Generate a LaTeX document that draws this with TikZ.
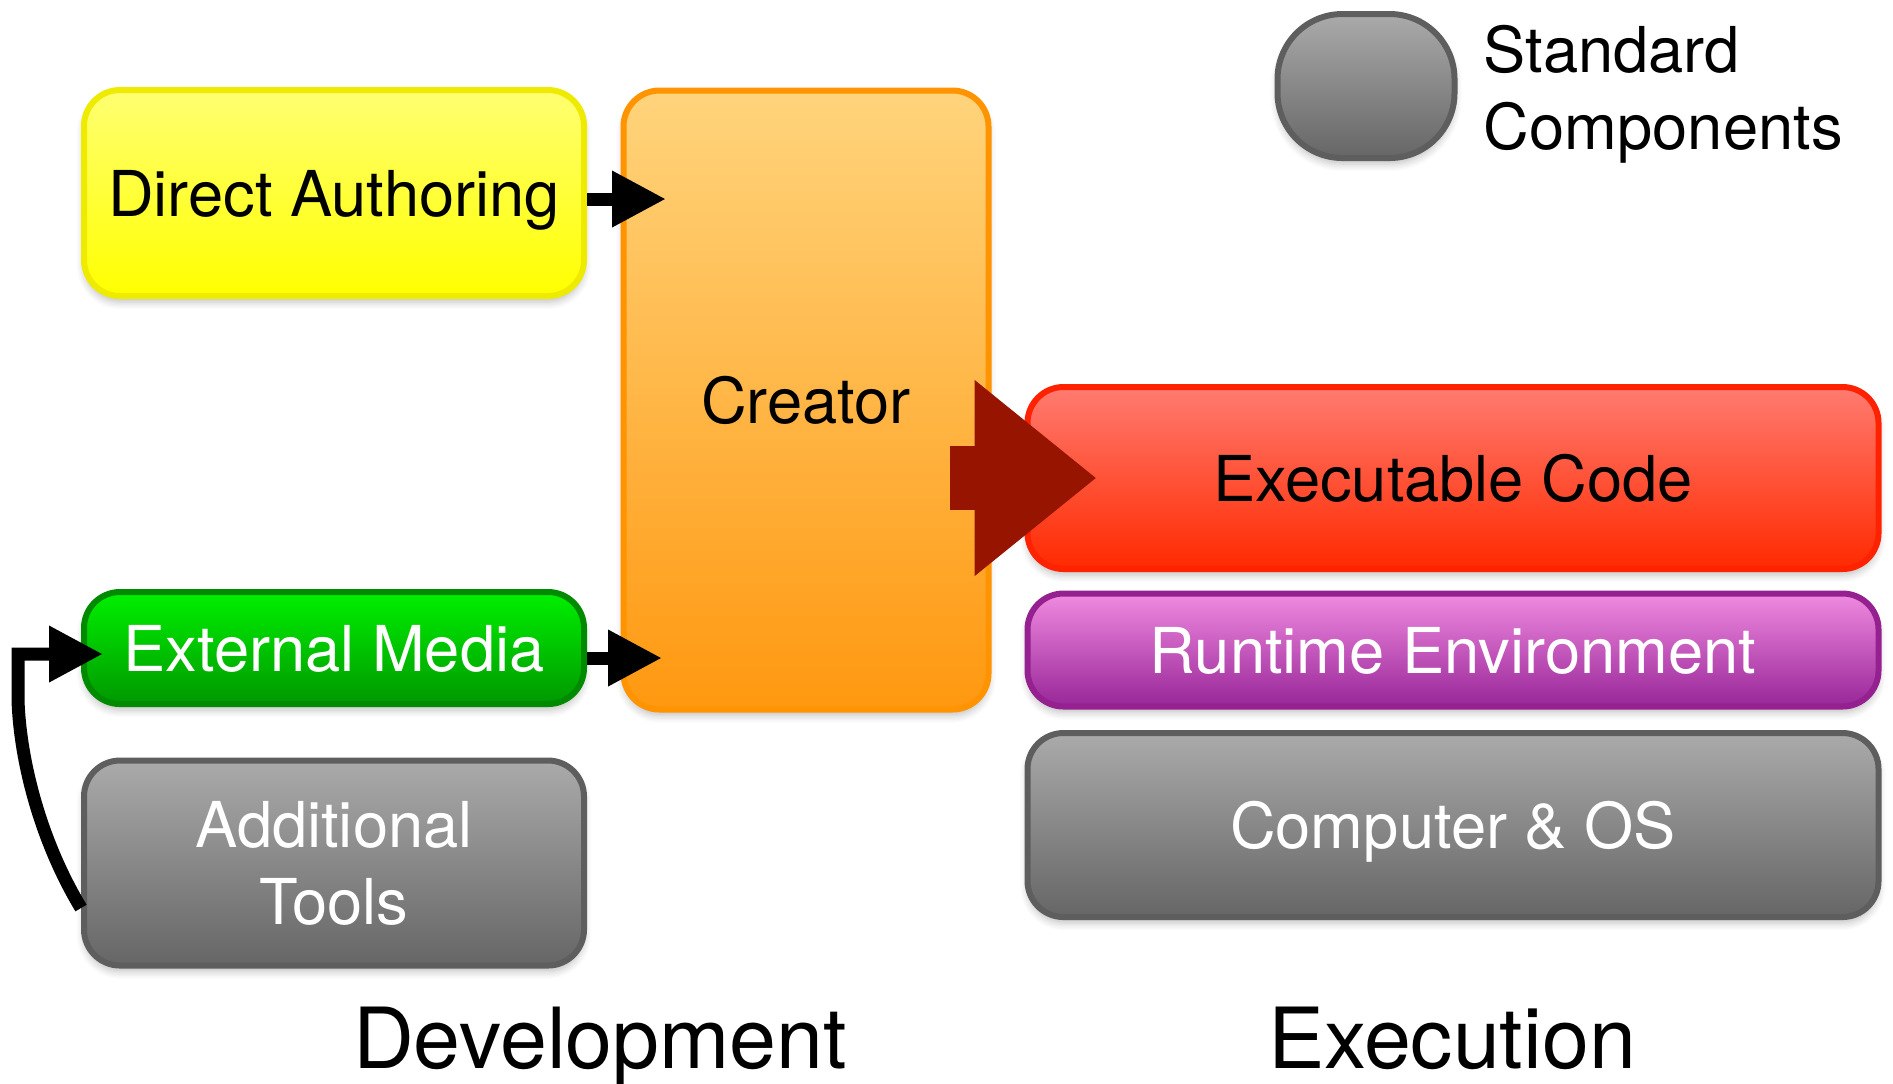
\documentclass[tikz,border=0pt]{standalone}
\usepackage{fontspec}
\setmainfont{TeX Gyre Heros}
\usetikzlibrary{arrows.meta}
\usetikzlibrary{calc}
\usetikzlibrary{shadows.blur}

\definecolor{yellowTop}{HTML}{FFFF72}
\definecolor{yellowBot}{HTML}{FFFF00}
\definecolor{yellowLine}{HTML}{EEEA00}
\definecolor{orangeTop}{HTML}{FFD47C}
\definecolor{orangeBot}{HTML}{FF9810}
\definecolor{orangeLine}{HTML}{FF9300}
\definecolor{greenTop}{HTML}{00F000}
\definecolor{greenBot}{HTML}{009800}
\definecolor{greenLine}{HTML}{008A00}
\definecolor{grayTop}{HTML}{AAAAAA}
\definecolor{grayBot}{HTML}{666666}
\definecolor{grayLine}{HTML}{5E5E5E}
\definecolor{redTop}{HTML}{FF7B70}
\definecolor{redBot}{HTML}{FF2A00}
\definecolor{redLine}{HTML}{FF2200}
\definecolor{purpleTop}{HTML}{F08AE0}
\definecolor{purpleBot}{HTML}{982698}
\definecolor{purpleLine}{HTML}{952090}
\definecolor{arrowRed}{HTML}{961400}

\tikzset{
  box/.style={draw, line width=0.6mm, rounded corners=3.6mm, inner sep=0pt,
    align=center, text depth=0pt, font=\fontsize{18}{21.8}\selectfont,
    blur shadow={shadow xshift=0mm, shadow yshift=-0.6mm,
      shadow blur steps=6, shadow opacity=25}},
  yellowbox/.style={box, draw=yellowLine, top color=yellowTop, bottom color=yellowBot},
  orangebox/.style={box, draw=orangeLine, top color=orangeTop, bottom color=orangeBot},
  greenbox/.style={box, draw=greenLine, top color=greenTop, bottom color=greenBot, text=white},
  graybox/.style={box, draw=grayLine, top color=grayTop, bottom color=grayBot, text=white},
  redbox/.style={box, draw=redLine, top color=redTop, bottom color=redBot},
  purplebox/.style={box, draw=purpleLine, top color=purpleTop, bottom color=purpleBot, text=white},
  blk/.style={line width=1.3mm, -{Triangle[length=5.4mm,width=5.3mm]}},
  bigarrow/.style={line width=6.4mm, arrowRed, -{Triangle[length=12.2mm,width=18.8mm]}},
  title/.style={font=\fontsize{24}{28}\selectfont, anchor=base},
}

\begin{document}
\begin{tikzpicture}[x=0.1mm,y=-0.1mm]

  \useasboundingbox (0,0) rectangle (1893,1083);

  % development side
  \node[yellowbox, minimum width=50mm, minimum height=20.6mm] (da) at (334,193) {Direct Authoring};
  \node[orangebox, minimum width=36.5mm, minimum height=61.9mm] (creator) at (806,400) {Creator};
  \node[greenbox, minimum width=50mm, minimum height=11.2mm] (em) at (334,648) {External Media};
  \node[graybox, minimum width=50mm, minimum height=20.5mm] (at) at (334,863) {Additional\\Tools};

  % execution side
  \node[redbox, minimum width=85.1mm, minimum height=18.2mm] (ec) at (1453,478) {Executable Code};
  \node[purplebox, minimum width=85.1mm, minimum height=11.3mm] (re) at (1453,650) {Runtime Environment};
  \node[graybox, minimum width=85.1mm, minimum height=18.4mm] (co) at (1453,825) {Computer \& OS};

  % legend
  \node[graybox, rounded corners=6.5mm, minimum width=17.7mm, minimum height=14.4mm] (legend) at (1366,86) {};
  \node[anchor=west, align=left, inner sep=0pt, font=\fontsize{18}{21.8}\selectfont] (legendtext) at (1483,94) {Standard\\Components};

  % arrows into the creator
  \coordinate (crInA) at ($(da.east)+(79,6)$);
  \coordinate (crInB) at ($(em.east)+(75,10)$);
  \draw[blk] (da.east |- crInA) -- (crInA);
  \draw[blk] (em.east |- crInB) -- (crInB);

  % tools feed the media
  \coordinate (emIn) at ($(em.west)+(22,6)$);
  \draw[blk] ($(at.west)+(0,45)$) .. controls (40,840) and (20,760) .. (18,700) |- (emIn);

  % creator produces code
  \draw[bigarrow] ($(creator.east |- ec.west)+(-42,0)$) -- ($(ec.west)+(72,0)$);

  % titles
  \node[title] (dev) at (600,1068) {Development};
  \node[title] (exe) at (1452,1068) {Execution};

\end{tikzpicture}
\end{document}
